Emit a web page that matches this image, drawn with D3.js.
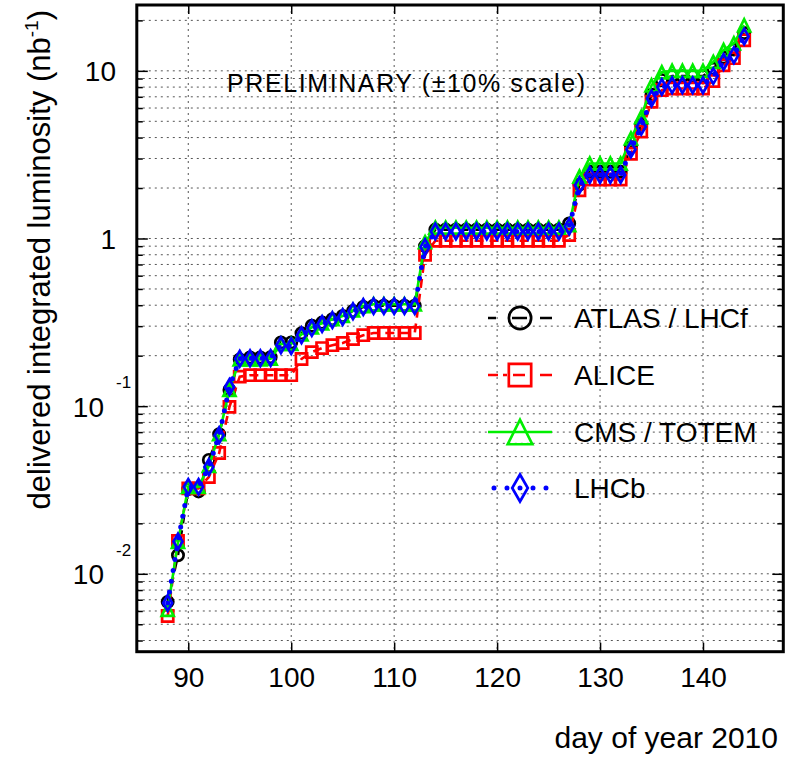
<!DOCTYPE html>
<html>
<head>
<meta charset="utf-8">
<script src="https://cdn.jsdelivr.net/npm/d3@7"></script>
<style>
html, body { margin: 0; padding: 0; background: #fff; }
svg { display: block; font-family: "Liberation Sans", Arial, sans-serif; }
</style>
</head>
<body>
<div id="chart"></div>
<script>
// jours de l'année 2010
const days = [88, 89, 90, 91, 92, 93, 94, 95, 96, 97, 98, 99, 100, 101, 102, 103, 104, 105, 106, 107,
  108, 109, 110, 111, 112, 113, 114, 115, 116, 117, 118, 119, 120, 121, 122, 123, 124, 125, 126, 127,
  128, 129, 130, 131, 132, 133, 134, 135, 136, 137, 138, 139, 140, 141, 142, 143, 144];

// luminosité intégrée (nb^-1)
const atlas = [0.0068, 0.0129, 0.032, 0.031, 0.0478, 0.068, 0.125, 0.19, 0.195, 0.195, 0.196, 0.24, 0.24,
  0.272, 0.302, 0.315, 0.33, 0.345, 0.37, 0.39, 0.397, 0.397, 0.397, 0.397, 0.397, 0.9,
  1.13, 1.13, 1.13, 1.13, 1.13, 1.13, 1.13, 1.13, 1.13, 1.13, 1.13, 1.13, 1.13, 1.23,
  2.1, 2.5, 2.5, 2.5, 2.5, 3.5, 4.8, 7.2, 8.8, 9.3, 9.3, 9.3, 9.3, 10.3, 12.0, 13.4, 16.8];
const alice = [0.0056, 0.0157, 0.0323, 0.0323, 0.0378, 0.0525, 0.099, 0.150, 0.153, 0.153, 0.153, 0.153, 0.153,
  0.191, 0.21, 0.222, 0.231, 0.238, 0.251, 0.265, 0.273, 0.273, 0.273, 0.273, 0.273, 0.80,
  0.97, 0.97, 0.97, 0.97, 0.97, 0.97, 0.97, 0.97, 0.97, 0.97, 0.97, 0.97, 0.97, 1.05,
  1.94, 2.25, 2.25, 2.25, 2.25, 3.2, 4.34, 6.54, 7.67, 7.85, 7.85, 7.85, 7.85, 8.7, 10.8, 11.9, 15.2];
const cms = [0.0061, 0.0155, 0.033, 0.033, 0.044, 0.068, 0.125, 0.19, 0.19, 0.19, 0.192, 0.235, 0.235,
  0.268, 0.295, 0.312, 0.33, 0.345, 0.372, 0.395, 0.405, 0.405, 0.405, 0.405, 0.405, 0.95,
  1.16, 1.16, 1.16, 1.16, 1.16, 1.16, 1.16, 1.16, 1.16, 1.16, 1.16, 1.16, 1.16, 1.2,
  2.34, 2.8, 2.8, 2.8, 2.8, 3.95, 5.3, 8.2, 9.8, 10.0, 10.0, 10.0, 10.0, 11.3, 13.3, 14.6, 18.7];
const lhcb = [0.0067, 0.0156, 0.033, 0.033, 0.0434, 0.067, 0.13, 0.192, 0.193, 0.193, 0.194, 0.231, 0.228,
  0.265, 0.292, 0.309, 0.326, 0.34, 0.368, 0.39, 0.395, 0.395, 0.395, 0.395, 0.395, 0.89,
  1.1, 1.1, 1.1, 1.1, 1.1, 1.1, 1.1, 1.1, 1.1, 1.1, 1.1, 1.1, 1.1, 1.18,
  2.08, 2.39, 2.39, 2.39, 2.39, 3.4, 4.64, 6.84, 8.0, 8.2, 8.2, 8.2, 8.2, 9.3, 11.3, 12.4, 16.0];

const seriesNames = ['ATLAS / LHCf', 'ALICE', 'CMS / TOTEM', 'LHCb'];
const xTickValues = [90, 100, 110, 120, 130, 140];
const yMajorValues = [10, 1, 0.1, 0.01];
const yMantissa = ['10', '1', '10', '10'];
const yExponent = ['', '', '-1', '-2'];

const W = 798, H = 759;
const svg = d3.select('#chart').append('svg')
  .attr('width', W)
  .attr('height', H);

const x = d3.scaleLinear().domain([85, 147.8]).range([136.8, 783.3]);
const y = d3.scaleLog().domain([0.00343, 24.7]).range([651.7, 5]);

const pLeft = x.range()[0], pRight = x.range()[1];
const pTop = y.range()[1], pBottom = y.range()[0];

// triangle ouvert façon ROOT (hauteur ~ largeur)
const rootTriangle = {
  draw(ctx, size) {
    const s = Math.sqrt(size);
    ctx.moveTo(0, -s / 2);
    ctx.lineTo(s / 2, s / 2);
    ctx.lineTo(-s / 2, s / 2);
    ctx.closePath();
  }
};

const styles = [
  { color: '#000000', dash: '9,7', legDash: '8,16,15,13,12', width: 2.6, cap: 'butt', shape: d3.symbolCircle, size: 100, legSize: 390 },
  { color: '#ff0000', dash: '9,6', legDash: '10,5,4,6,12,15,12', width: 2.6, cap: 'butt', shape: d3.symbolSquare, size: 125, legSize: 500 },
  { color: '#00ee00', dash: null, legDash: null, width: 2.6, cap: 'butt', shape: rootTriangle, size: 145, legSize: 600 },
  { color: '#0000ff', dash: '0,11', legDash: '0,13', width: 5, cap: 'round', shape: d3.symbolDiamond, size: 70, legSize: 210 }
];
const allSeries = [atlas, alice, cms, lhcb];

// grille pointillée
const grid = svg.append('g').attr('class', 'grid')
  .attr('stroke', '#555').attr('stroke-width', 1).attr('stroke-dasharray', '2,4');

grid.selectAll('.vg').data(xTickValues).enter().append('line')
  .attr('x1', d => x(d)).attr('x2', d => x(d))
  .attr('y1', pTop).attr('y2', pBottom);

grid.selectAll('.hg').data(y.ticks()).enter().append('line')
  .attr('x1', pLeft).attr('x2', pRight)
  .attr('y1', d => y(d)).attr('y2', d => y(d));

// courbes
const line = d3.line().x(d => x(d[0])).y(d => y(d[1]));

allSeries.forEach((vals, i) => {
  const st = styles[i];
  const pts = days.map((d, j) => [d, vals[j]]);
  const g = svg.append('g');
  g.append('path')
    .datum(pts)
    .attr('fill', 'none')
    .attr('stroke', st.color)
    .attr('stroke-width', st.width)
    .attr('stroke-dasharray', st.dash)
    .attr('stroke-linecap', st.cap)
    .attr('d', line);
  g.selectAll('.m').data(pts).enter().append('path')
    .attr('transform', d => `translate(${x(d[0])},${y(d[1])})`)
    .attr('d', d3.symbol().type(st.shape).size(st.size))
    .attr('fill', 'none')
    .attr('stroke', st.color)
    .attr('stroke-width', 2.7);
});

// cadre
svg.append('rect')
  .attr('x', pLeft).attr('y', pTop)
  .attr('width', pRight - pLeft).attr('height', pBottom - pTop)
  .attr('fill', 'none').attr('stroke', '#000').attr('stroke-width', 3);

// axes : graduations vers l'intérieur
svg.append('g')
  .attr('transform', `translate(0,${pBottom})`)
  .call(d3.axisBottom(x).tickValues(xTickValues).tickSize(-9).tickPadding(15))
  .call(g => g.select('.domain').remove())
  .call(g => g.selectAll('line').attr('stroke-width', 1.5))
  .call(g => g.selectAll('text').attr('font-size', 28).attr('font-family', '"Liberation Sans", Arial, sans-serif').attr('fill', '#000'));

svg.append('g')
  .attr('transform', `translate(0,${pTop})`)
  .call(d3.axisTop(x).tickValues(xTickValues).tickSize(-9).tickFormat(''))
  .call(g => g.select('.domain').remove())
  .call(g => g.selectAll('line').attr('stroke-width', 1.5));

const yMinor = y.ticks().filter(v => !yMajorValues.some(m => Math.abs(m - v) / m < 1e-6));

[[pLeft, d3.axisLeft], [pRight, d3.axisRight]].forEach(([pos, axisFn]) => {
  svg.append('g')
    .attr('transform', `translate(${pos},0)`)
    .call(axisFn(y).tickValues(yMajorValues).tickSize(-11).tickFormat(''))
    .call(g => g.select('.domain').remove())
    .call(g => g.selectAll('line').attr('stroke-width', 1.5));
  svg.append('g')
    .attr('transform', `translate(${pos},0)`)
    .call(axisFn(y).tickValues(yMinor).tickSize(-6).tickFormat(''))
    .call(g => g.select('.domain').remove())
    .call(g => g.selectAll('line').attr('stroke-width', 1.5));
});

// étiquettes de l'axe y (10, 1, 10^-1, 10^-2)
yMajorValues.forEach((v, i) => {
  const yy = y(v);
  if (yExponent[i] === '') {
    svg.append('text')
      .attr('x', 116).attr('y', yy + 10.5)
      .attr('text-anchor', 'end')
      .attr('font-size', 28)
      .text(yMantissa[i]);
  } else {
    svg.append('text')
      .attr('x', 104).attr('y', yy + 10.5)
      .attr('text-anchor', 'end')
      .attr('font-size', 28)
      .text(yMantissa[i]);
    svg.append('text')
      .attr('x', 116).attr('y', yy - 18)
      .attr('font-size', 17)
      .text(yExponent[i]);
  }
});

// titres des axes
svg.append('text')
  .attr('x', 778).attr('y', 748)
  .attr('text-anchor', 'end')
  .attr('font-size', 30)
  .text('day of year 2010');

const yt = svg.append('text')
  .attr('transform', 'translate(50,10) rotate(-90)')
  .attr('text-anchor', 'end')
  .attr('font-size', 31);
yt.append('tspan').text('delivered integrated luminosity (nb');
yt.append('tspan').attr('font-size', 19).attr('dy', -12).text('-1');
yt.append('tspan').attr('dy', 12).text(')');

// mention préliminaire
svg.append('text')
  .attr('x', 227).attr('y', 92)
  .attr('font-size', 25)
  .attr('textLength', 358)
  .attr('lengthAdjust', 'spacing')
  .text('PRELIMINARY (\u00B110% scale)');

// légende
const legRows = [318, 375, 432, 488];
seriesNames.forEach((name, i) => {
  const st = styles[i];
  const ly = legRows[i];
  const g = svg.append('g');
  g.append('line')
    .attr('x1', 488).attr('x2', 552)
    .attr('y1', ly).attr('y2', ly)
    .attr('stroke', st.color)
    .attr('stroke-width', st.width)
    .attr('stroke-dasharray', st.legDash)
    .attr('stroke-dashoffset', i === 3 ? -6 : 0)
    .attr('stroke-linecap', st.cap);
  g.append('path')
    .attr('transform', `translate(520,${ly})`)
    .attr('d', d3.symbol().type(st.shape).size(st.legSize))
    .attr('fill', 'none')
    .attr('stroke', st.color)
    .attr('stroke-width', 2.7);
  g.append('text')
    .attr('x', 574).attr('y', ly + 10)
    .attr('font-size', 28)
    .text(name);
});
</script>
</body>
</html>
